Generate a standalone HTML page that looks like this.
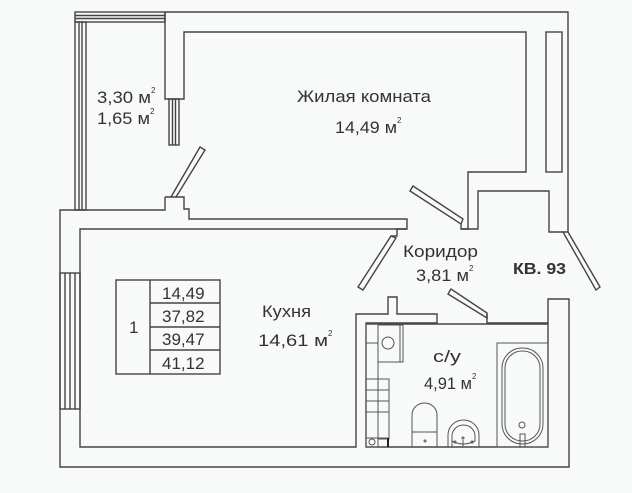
<!DOCTYPE html>
<html><head><meta charset="utf-8"><style>
html,body{margin:0;padding:0;background:#f8f9f9;}
svg{display:block;}
text{font-family:"Liberation Sans",sans-serif;fill:#333;}
.s{font-size:8px;}
</style></head><body>
<svg width="632" height="493" viewBox="0 0 632 493" xmlns="http://www.w3.org/2000/svg">
<rect width="632" height="493" fill="#f8f9f9"/>
<g fill="none" stroke="#444" stroke-width="1.4" stroke-linejoin="miter">
<rect x="75" y="12" width="90" height="10"/>
<line x1="75" y1="15.5" x2="165" y2="15.5"/><line x1="75" y1="18.5" x2="165" y2="18.5"/>
<rect x="75" y="22" width="11" height="188"/>
<line x1="79" y1="22" x2="79" y2="210"/><line x1="82" y1="22" x2="82" y2="210"/>
<polyline points="165,12 568,12 568,232"/>
<polyline points="165,12 165,99 184,99 184,32 526,32 526,172 468,172 468,229 461,229"/>
<rect x="169" y="99" width="10" height="46"/>
<line x1="172.5" y1="99" x2="172.5" y2="145"/><line x1="175.5" y1="99" x2="175.5" y2="145"/>
<polygon points="165,197 171,197 200,147 205,150 176,197"/>
<polyline points="176,197 184,197 184,209 189,209 189,219 407,219 407,229 397,229 397,236 391,236"/>
<polyline points="165,197 165,210 60,210 60,467 569,467 569,299 548,299 548,323 487,323 487,314"/>
<rect x="60" y="273" width="20" height="136"/>
<line x1="65" y1="273" x2="65" y2="409"/><line x1="70" y1="273" x2="70" y2="409"/><line x1="75" y1="273" x2="75" y2="409"/>
<polyline points="407,229 80,229 80,447 356,447 356,314 388,314 388,297 397,297 397,314 437,314 437,323 366,323 366,447 548,447 548,324 366,324"/>
<polygon points="391,236 396,238 363,290 358,287"/>
<polygon points="410,191 413,186 463,219 461,224"/>
<polyline points="461,224 461,229 478,229 478,191 549,191 549,232 563,232"/>
<polygon points="563,232 568,232 600,287 596,290"/>
<polygon points="451,289 448,294 487,318 487,313"/>
<rect x="546" y="32" width="16" height="140"/>
<rect x="116" y="280" width="104" height="94"/>
<line x1="150" y1="280" x2="150" y2="374"/>
<line x1="150" y1="303" x2="220" y2="303"/><line x1="150" y1="327" x2="220" y2="327"/><line x1="150" y1="350" x2="220" y2="350"/>
</g>
<g fill="none" stroke="#555" stroke-width="1">
<rect x="497" y="343" width="51" height="104"/>
<rect x="502" y="348" width="41" height="96" rx="20"/>
<rect x="505" y="351" width="35" height="90" rx="17"/>
<circle cx="522" cy="425" r="3"/>
<rect x="520" y="434" width="5" height="13"/>
<path d="M412,447 V415 A12.5,12 0 0 1 437,415 V447"/>
<line x1="412" y1="432" x2="437" y2="432"/>
<circle cx="425" cy="441" r="1"/>
<path d="M448,447 V435 A15.5,15 0 0 1 479,435 V447"/>
<path d="M452,447 V436 A11.5,11 0 0 1 475,436 V441 Q463,447 452,441"/>
<circle cx="463" cy="438" r="1"/><line x1="463" y1="440" x2="463" y2="447"/>
<circle cx="455" cy="442" r="1"/><circle cx="472" cy="442" r="1"/>
<rect x="378" y="325" width="22" height="37"/>
<rect x="400" y="325" width="3" height="37"/>
<circle cx="388" cy="343" r="6"/>
<rect x="366" y="343" width="12" height="104"/>
<rect x="366" y="324" width="12" height="19"/>
<rect x="378" y="379" width="11" height="60"/>
<line x1="366" y1="379" x2="389" y2="379"/><line x1="366" y1="390" x2="389" y2="390"/><line x1="366" y1="401" x2="389" y2="401"/><line x1="366" y1="412" x2="389" y2="412"/>
<line x1="366" y1="438" x2="389" y2="438"/>
<circle cx="372" cy="442" r="3"/>
<line x1="388" y1="438" x2="388" y2="447" stroke="#222" stroke-width="2"/>
</g>
<g font-size="17">
<text x="97" y="103"><tspan textLength="54" lengthAdjust="spacingAndGlyphs">3,30 м</tspan><tspan class="s" dy="-10">2</tspan></text>
<text x="97" y="124"><tspan textLength="53" lengthAdjust="spacingAndGlyphs">1,65 м</tspan><tspan class="s" dy="-10">2</tspan></text>
<text x="297" y="102" textLength="134" lengthAdjust="spacingAndGlyphs">Жилая комната</text>
<text x="335" y="133"><tspan textLength="62" lengthAdjust="spacingAndGlyphs">14,49 м</tspan><tspan class="s" dy="-10">2</tspan></text>
<text x="403" y="257" textLength="75" lengthAdjust="spacingAndGlyphs">Коридор</text>
<text x="416" y="281"><tspan textLength="53" lengthAdjust="spacingAndGlyphs">3,81 м</tspan><tspan class="s" dy="-10">2</tspan></text>
<text x="513" y="274" font-weight="bold" font-size="16" textLength="53" lengthAdjust="spacingAndGlyphs">КВ. 93</text>
<text x="262" y="317" textLength="49" lengthAdjust="spacingAndGlyphs">Кухня</text>
<text x="258" y="346"><tspan textLength="70" lengthAdjust="spacingAndGlyphs">14,61 м</tspan><tspan class="s" dy="-10">2</tspan></text>
<text x="433" y="362" textLength="28" lengthAdjust="spacingAndGlyphs">с/у</text>
<text x="424" y="389"><tspan textLength="48" lengthAdjust="spacingAndGlyphs">4,91 м</tspan><tspan class="s" dy="-10">2</tspan></text>
</g>
<g font-size="17">
<text x="129" y="333">1</text>
<text x="162" y="299">14,49</text>
<text x="162" y="322">37,82</text>
<text x="162" y="345">39,47</text>
<text x="162" y="369">41,12</text>
</g>
</svg>
</body></html>
